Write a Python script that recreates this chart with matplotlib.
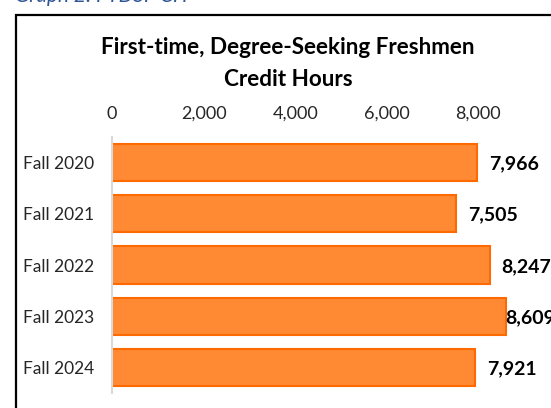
import matplotlib
matplotlib.use("Agg")
import matplotlib.pyplot as plt
from matplotlib.patches import Rectangle

# datos del grafico
categorias = ["Fall 2020", "Fall 2021", "Fall 2022", "Fall 2023", "Fall 2024"]
horas = [7966, 7505, 8247, 8609, 7921]
ticks_x = [0, 2000, 4000, 6000, 8000]

plt.rcParams["font.family"] = ["Lato", "DejaVu Sans"]

W, H = 551, 408
fig = plt.figure(figsize=(W / 100, H / 100), dpi=100)

# area de las barras (en pixeles: izq 112, arriba 137, abajo 393)
ax = fig.add_axes([112 / W, (H - 393) / H, 458 / W, 256 / H])
y = list(range(len(categorias)))
ax.barh(y, horas, height=0.73, color="#FF8A33", edgecolor="#FF6A00", linewidth=1.5)
ax.set_xlim(0, 10000)
ax.set_ylim(len(categorias) - 0.5, -0.5)
ax.set_yticks(y)
ax.set_yticklabels(categorias, fontsize=12.5, color="#262626")
ax.xaxis.tick_top()
ax.set_xticks(ticks_x)
ax.set_xticklabels([f"{t:,}" for t in ticks_x], fontsize=13, color="#262626")
ax.tick_params(axis="x", length=0, pad=11)
ax.tick_params(axis="y", length=0, pad=13)
for s in ["top", "right", "bottom"]:
    ax.spines[s].set_visible(False)
ax.spines["left"].set_color("#D9D9D9")
ax.spines["left"].set_linewidth(1.5)

# etiquetas de valor, sin salirse del area del grafico (borde ~555 px)
fig.canvas.draw()
r = fig.canvas.get_renderer()
for i, v in enumerate(horas):
    t = ax.annotate(f"{v:,}", (v, i), xytext=(12 * 72 / 100, -1), textcoords="offset points",
                    va="center", ha="left", fontsize=14, fontweight="bold", color="#000000")
    bb = t.get_window_extent(r)
    if bb.x1 > 555:
        t.set_position((-(bb.x1 - 555) * 72 / 100 + 12 * 72 / 100, -1))

# titulo
fig.text(288 / W, 1 - 48 / H, "First-time, Degree-Seeking Freshmen", ha="center", va="center",
         fontsize=16.2, fontweight="bold", color="#000000")
fig.text(288 / W, 1 - 80 / H, "Credit Hours", ha="center", va="center",
         fontsize=16.2, fontweight="bold", color="#000000")

# marco del grafico y leyenda cortada arriba
fig.add_artist(Rectangle((16 / W, -0.1), 2, 1.1 - 15 / H, transform=fig.transFigure,
                         fill=False, edgecolor="black", linewidth=1.6))
fig.text(15 / W, 1 - 1.5 / H, "Graph 2: FTDSF CH", ha="left", va="baseline",
         fontsize=15, style="italic", color="#2F5597")

fig.savefig("out.png", dpi=100)
